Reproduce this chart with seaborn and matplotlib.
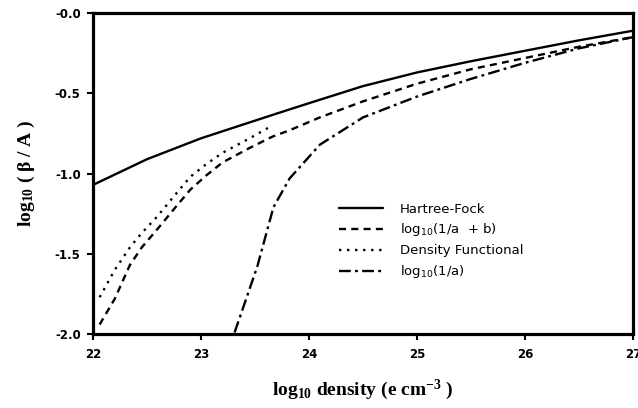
import numpy as np
import pandas as pd
import seaborn as sns
import matplotlib.pyplot as plt

# curves
hf_x = [22, 22.5, 23, 23.5, 23.82, 24.1, 24.5, 25, 25.5, 26, 26.5, 27]
hf_y = [-1.07, -0.91, -0.78, -0.67, -0.60, -0.54, -0.455, -0.37, -0.30, -0.235, -0.17, -0.11]

ab_x = [22.06, 22.2, 22.34, 22.45, 22.59, 22.75, 22.9, 23.05, 23.2, 23.45, 23.66, 23.82,
        24.1, 24.5, 25, 25.5, 26, 26.5, 27]
ab_y = [-1.94, -1.78, -1.57, -1.46, -1.35, -1.22, -1.10, -1.01, -0.93, -0.84, -0.77, -0.73,
        -0.65, -0.55, -0.44, -0.35, -0.28, -0.21, -0.15]

df_x = [22.06, 22.2, 22.34, 22.45, 22.59, 22.75, 22.9, 23.05, 23.2, 23.45, 23.66]
df_y = [-1.77, -1.60, -1.46, -1.37, -1.27, -1.14, -1.02, -0.94, -0.87, -0.78, -0.70]

a_x = [23.31, 23.52, 23.67, 23.82, 24.1, 24.5, 25, 25.5, 26, 26.5, 27]
a_y = [-1.99, -1.58, -1.21, -1.03, -0.82, -0.65, -0.52, -0.41, -0.31, -0.22, -0.15]

labels = ['Hartree-Fock', 'log$_{10}$(1/a  + b)', 'Density Functional', 'log$_{10}$(1/a)']
xticks = [22, 23, 24, 25, 26, 27]
yticks = [0.0, -0.5, -1.0, -1.5, -2.0]
yticklabels = ['-0.0', '-0.5', '-1.0', '-1.5', '-2.0']

data = pd.concat([
    pd.DataFrame({'x': hf_x, 'y': hf_y, 'curve': labels[0]}),
    pd.DataFrame({'x': ab_x, 'y': ab_y, 'curve': labels[1]}),
    pd.DataFrame({'x': df_x, 'y': df_y, 'curve': labels[2]}),
    pd.DataFrame({'x': a_x, 'y': a_y, 'curve': labels[3]}),
])

sns.set_style('ticks')
plt.rcParams['font.family'] = ['DejaVu Sans']
plt.rcParams['mathtext.default'] = 'regular'
plt.rcParams['text.color'] = 'black'
plt.rcParams['axes.labelcolor'] = 'black'

fig = plt.figure(figsize=(6.38, 4.08), dpi=100)
ax = fig.add_axes([0.146, 0.181, 0.846, 0.787])

dashes = {labels[0]: '', labels[1]: (3, 2.2), labels[2]: (1, 2.4), labels[3]: (5, 1.8, 1.2, 1.8)}
sns.lineplot(data=data, x='x', y='y', style='curve', dashes=dashes, color='black',
             linewidth=1.7, estimator=None, sort=False, ax=ax, legend=True)

ax.set_xlim(22, 27)
ax.set_ylim(-2.0, 0.0)
ax.set_xticks(xticks)
ax.set_xticklabels([str(t) for t in xticks], fontsize=8.5, fontweight='bold')
ax.set_yticks(yticks)
ax.set_yticklabels(yticklabels, fontsize=8.5, fontweight='bold')
ax.tick_params(direction='out', length=4, width=1.5, colors='black')
ax.tick_params(axis='x', pad=6)
ax.tick_params(axis='y', pad=5)
for s in ax.spines.values():
    s.set_linewidth(2.3)
    s.set_visible(True)
    s.set_color('black')

ax.set_xlabel('log$_{10}$ density (e cm$^{-3}$ )', fontsize=14, fontweight='bold',
              family='Liberation Serif', labelpad=12)
ax.set_ylabel('log$_{10}$ ( β / A )', fontsize=14, fontweight='bold',
              family='Liberation Serif', labelpad=13)

leg = ax.legend(loc='upper left', bbox_to_anchor=(0.456, 0.41), frameon=False,
                handlelength=3.3, handletextpad=1.3, fontsize=9.5, labelspacing=0.45,
                borderpad=0, borderaxespad=0, title=None)
for h in leg.get_lines():
    h.set_linewidth(1.7)
for t in leg.get_texts():
    t.set_color('black')

fig.savefig('out.png', dpi=100)
